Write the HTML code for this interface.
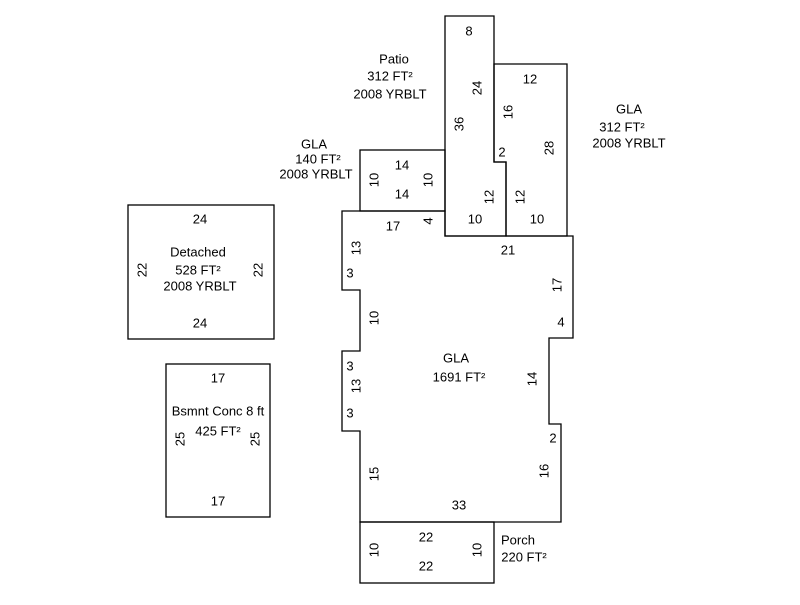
<!DOCTYPE html>
<html><head><meta charset="utf-8"><style>
html,body{margin:0;padding:0;background:#fff;}
svg text{font-family:"Liberation Sans",Arial,sans-serif;font-size:13px;fill:#000;text-anchor:middle;dominant-baseline:central;}
</style></head><body>
<svg width="800" height="600" xmlns="http://www.w3.org/2000/svg">
<g fill="none" stroke="#000" stroke-width="1.3">
<polygon points="445,16 494,16 494,162 506,162 506,236 445,236"/>
<polygon points="494,64 567,64 567,236 506,236 506,162 494,162"/>
<rect x="360" y="150" width="85" height="61"/>
<polygon points="342,211 445,211 445,236 573,236 573,338 549,338 549,424 561,424 561,522 360,522 360,431 342,431 342,351 360,351 360,290 342,290"/>
<rect x="360" y="522" width="134" height="61"/>
<rect x="128" y="205" width="146" height="134"/>
<rect x="166" y="364" width="104" height="153"/>
</g>
<text x="469" y="31">8</text>
<text x="394" y="59">Patio</text>
<text x="390" y="76">312 FT²</text>
<text x="390" y="94">2008 YRBLT</text>
<text transform="translate(477,88) rotate(-90)">24</text>
<text transform="translate(459,124) rotate(-90)">36</text>
<text x="530" y="79">12</text>
<text transform="translate(508,112) rotate(-90)">16</text>
<text x="502" y="152">2</text>
<text transform="translate(549,148) rotate(-90)">28</text>
<text transform="translate(489,197) rotate(-90)">12</text>
<text transform="translate(520,197) rotate(-90)">12</text>
<text x="475" y="219">10</text>
<text x="537" y="219">10</text>
<text x="629" y="109">GLA</text>
<text x="622" y="127">312 FT²</text>
<text x="629" y="143">2008 YRBLT</text>
<text x="314" y="144">GLA</text>
<text x="318" y="159">140 FT²</text>
<text x="316" y="174">2008 YRBLT</text>
<text x="402" y="165">14</text>
<text x="402" y="194">14</text>
<text transform="translate(374,180) rotate(-90)">10</text>
<text transform="translate(428,180) rotate(-90)">10</text>
<text x="393" y="226">17</text>
<text transform="translate(428,221) rotate(-90)">4</text>
<text x="508" y="250">21</text>
<text transform="translate(356,248) rotate(-90)">13</text>
<text x="350" y="273">3</text>
<text transform="translate(374,318) rotate(-90)">10</text>
<text transform="translate(557,285) rotate(-90)">17</text>
<text x="561" y="322">4</text>
<text x="456" y="358">GLA</text>
<text x="459" y="377">1691 FT²</text>
<text transform="translate(532,379) rotate(-90)">14</text>
<text x="350" y="366">3</text>
<text transform="translate(356,386) rotate(-90)">13</text>
<text x="350" y="413">3</text>
<text x="553" y="438">2</text>
<text transform="translate(374,474) rotate(-90)">15</text>
<text transform="translate(544,471) rotate(-90)">16</text>
<text x="459" y="505">33</text>
<text x="426" y="537">22</text>
<text x="426" y="566">22</text>
<text transform="translate(374,550) rotate(-90)">10</text>
<text transform="translate(477,550) rotate(-90)">10</text>
<text x="518" y="540">Porch</text>
<text x="524" y="557">220 FT²</text>
<text x="200" y="219">24</text>
<text x="198" y="252">Detached</text>
<text x="198" y="270">528 FT²</text>
<text x="200" y="286">2008 YRBLT</text>
<text transform="translate(142,270) rotate(-90)">22</text>
<text transform="translate(258,270) rotate(-90)">22</text>
<text x="200" y="323">24</text>
<text x="218" y="378">17</text>
<text x="218" y="411">Bsmnt Conc 8 ft</text>
<text x="218" y="431">425 FT²</text>
<text transform="translate(180,439) rotate(-90)">25</text>
<text transform="translate(255,439) rotate(-90)">25</text>
<text x="218" y="501">17</text>
</svg>
</body></html>
